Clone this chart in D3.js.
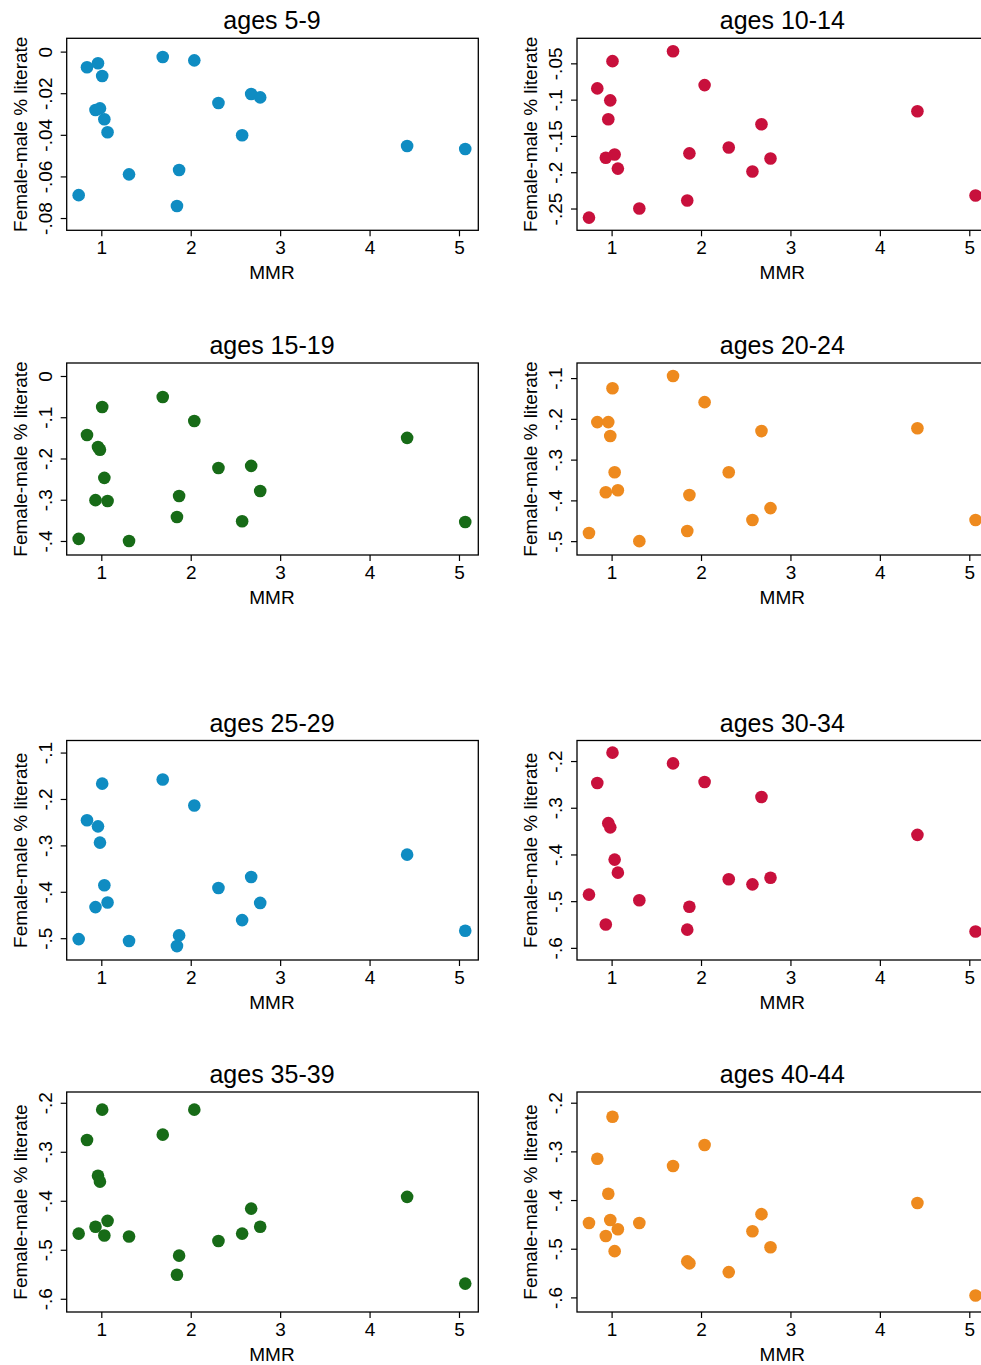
<!DOCTYPE html>
<html lang="en">
<head>
<meta charset="UTF-8">
<title>MMR vs literacy gap</title>
<script src="https://cdn.jsdelivr.net/npm/d3@7"></script>
<style>
  body { margin: 0; background: #fff; }
  text { font-family: "Liberation Sans", Arial, sans-serif; fill: #000; }
</style>
</head>
<body>
<div id="chart"></div>
<script>
// MMR per country (same countries in every panel)
const mmr = [0.747, 0.84, 0.935, 0.963, 0.985, 1.01, 1.034, 1.07, 1.31, 1.687, 1.846, 1.87, 2.04, 2.31, 2.575, 2.676, 2.777, 4.42, 5.07];

const ages = ["ages 5-9", "ages 10-14", "ages 15-19", "ages 20-24", "ages 25-29", "ages 30-34", "ages 35-39", "ages 40-44"];

const gap5_9 = [-0.0690, -0.0075, -0.0281, -0.0056, -0.0273, -0.0117, -0.0325, -0.0388, -0.0590, -0.0026, -0.0742, -0.0569, -0.0042, -0.0247, -0.0402, -0.0204, -0.0220, -0.0454, -0.0468];
const gap10_14 = [-0.2625, -0.0845, -0.180, -0.127, -0.101, -0.047, -0.1756, -0.195, -0.250, -0.0334, -0.239, -0.174, -0.080, -0.166, -0.199, -0.134, -0.181, -0.116, -0.232];
const gap15_19 = [-0.395, -0.143, -0.301, -0.172, -0.179, -0.075, -0.247, -0.303, -0.400, -0.051, -0.342, -0.291, -0.109, -0.223, -0.352, -0.218, -0.279, -0.150, -0.354];
const gap20_24 = [-0.480, -0.208, -0.380, -0.208, -0.242, -0.125, -0.331, -0.375, -0.500, -0.095, -0.475, -0.387, -0.159, -0.331, -0.448, -0.230, -0.419, -0.223, -0.448];
const gap25_29 = [-0.502, -0.246, -0.433, -0.259, -0.294, -0.167, -0.386, -0.423, -0.506, -0.158, -0.517, -0.494, -0.214, -0.392, -0.461, -0.368, -0.424, -0.320, -0.484];
const gap30_34 = [-0.486, -0.247, -0.550, -0.333, -0.342, -0.182, -0.411, -0.439, -0.498, -0.205, -0.561, -0.512, -0.245, -0.453, -0.464, -0.277, -0.450, -0.358, -0.565];
const gap35_39 = [-0.467, -0.276, -0.453, -0.349, -0.361, -0.214, -0.471, -0.441, -0.473, -0.265, -0.551, -0.512, -0.214, -0.482, -0.467, -0.416, -0.453, -0.392, -0.569];
const gap40_44 = [-0.447, -0.315, -0.474, -0.387, -0.441, -0.229, -0.505, -0.460, -0.447, -0.330, -0.526, -0.530, -0.287, -0.548, -0.464, -0.429, -0.497, -0.406, -0.596];

const yTicks = [
  [0, -0.02, -0.04, -0.06, -0.08],
  [-0.05, -0.1, -0.15, -0.2, -0.25],
  [0, -0.1, -0.2, -0.3, -0.4],
  [-0.1, -0.2, -0.3, -0.4, -0.5],
  [-0.1, -0.2, -0.3, -0.4, -0.5],
  [-0.2, -0.3, -0.4, -0.5, -0.6],
  [-0.2, -0.3, -0.4, -0.5, -0.6],
  [-0.2, -0.3, -0.4, -0.5, -0.6]
];
const yDomains = [
  [0.0064, -0.0859], [-0.0155, -0.280], [0.0315, -0.434], [-0.063, -0.534],
  [-0.074, -0.547], [-0.156, -0.626], [-0.178, -0.627], [-0.178, -0.630]
];
const xTicks = [1, 2, 3, 4, 5];
const colors = ["#0f8cc2", "#c8103c", "#176b17", "#ee8a1e"];

const series = [gap5_9, gap10_14, gap15_19, gap20_24, gap25_29, gap30_34, gap35_39, gap40_44];

const width = 981, height = 1365;
const svg = d3.select("#chart").append("svg").attr("width", width).attr("height", height);

const colLeft = [66.7, 577];
const plotW = 411.6;
const rows = [[38.3, 230.3], [363, 555], [740.5, 960], [1092, 1312]];
// Stata-style labels: hyphen minus, no leading zero
const fmt = v => v === 0 ? "0" : d3.format(".2~f")(v).replace("\u2212", "-").replace("0.", ".");
const font = '"Liberation Sans", Arial, sans-serif';

series.forEach((vals, i) => {
  const col = i % 2, row = Math.floor(i / 2);
  const left = colLeft[col], [top, bottom] = rows[row];
  const x = d3.scaleLinear().domain([0.613, 5.216]).range([left, left + plotW]);
  const y = d3.scaleLinear().domain(yDomains[i]).range([top, bottom]);
  const g = svg.append("g");

  g.append("rect").attr("x", left).attr("y", top).attr("width", plotW).attr("height", bottom - top)
    .attr("fill", "none").attr("stroke", "#000").attr("stroke-width", 1.3);

  g.append("text").attr("x", left + plotW / 2 - 0.5).attr("y", top - 9)
    .attr("text-anchor", "middle").attr("font-size", 25).text(ages[i]);

  const xa = g.append("g").attr("transform", `translate(0,${bottom})`)
    .call(d3.axisBottom(x).tickValues(xTicks).tickSize(6).tickFormat(d3.format("d")));
  xa.select(".domain").remove();
  xa.selectAll("line").attr("stroke-width", 1.2);
  xa.selectAll("text").attr("font-size", 19).attr("y", 9).attr("dy", "0.8em").style("font-family", font);

  g.append("text").attr("x", left + plotW / 2 - 0.5).attr("y", bottom + 49)
    .attr("text-anchor", "middle").attr("font-size", 19).text("MMR");

  const ya = g.append("g").attr("transform", `translate(${left},0)`)
    .call(d3.axisLeft(y).tickValues(yTicks[i]).tickSize(6).tickFormat(fmt));
  ya.select(".domain").remove();
  ya.selectAll("line").attr("stroke-width", 1.2);
  ya.selectAll("text").attr("font-size", 19)
    .attr("x", 0).attr("dy", 0)
    .attr("text-anchor", "middle")
    .attr("transform", "translate(-15,0) rotate(-90)")
    .style("font-family", font);

  g.append("text")
    .attr("transform", `translate(${left - 40},${(top + bottom) / 2}) rotate(-90)`)
    .attr("text-anchor", "middle").attr("font-size", 19).text("Female-male % literate");

  g.append("g").selectAll("circle").data(vals).join("circle")
    .attr("cx", (d, j) => x(mmr[j]))
    .attr("cy", d => y(d))
    .attr("r", 6.3)
    .attr("fill", colors[i % 4]);
});
</script>
</body>
</html>
